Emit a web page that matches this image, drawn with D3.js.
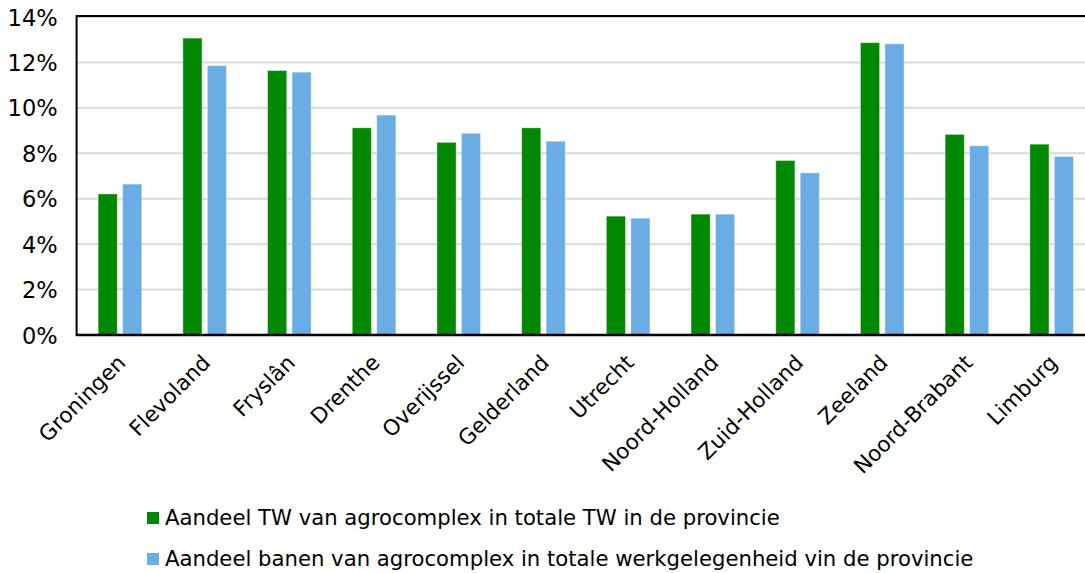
<!DOCTYPE html>
<html><head><meta charset="utf-8">
<script src="https://cdn.jsdelivr.net/npm/d3@7"></script>
<style>
body{margin:0;background:#fff;}
svg text{font-family:"DejaVu Sans",Verdana,sans-serif;fill:#000;}
</style></head>
<body>
<svg id="c" width="1085" height="573"></svg>
<script>
const categories = ["Groningen","Flevoland","Fryslân","Drenthe","Overijssel","Gelderland","Utrecht","Noord-Holland","Zuid-Holland","Zeeland","Noord-Brabant","Limburg"];
const seriesNames = ["Aandeel TW van agrocomplex in totale TW in de provincie","Aandeel banen van agrocomplex in totale werkgelegenheid vin de provincie"];
const tw = [6.21, 13.07, 11.64, 9.12, 8.48, 9.12, 5.23, 5.32, 7.68, 12.87, 8.83, 8.40];
const banen = [6.64, 11.86, 11.57, 9.68, 8.88, 8.53, 5.14, 5.32, 7.14, 12.82, 8.33, 7.86];
const yTicks = [0, 2, 4, 6, 8, 10, 12, 14];
const colors = ["#008800", "#6aace4"];

const svg = d3.select("#c");
const mLeft = 77.6, mTop = 17, mBottom = 335, mRight = 1094;

const x0 = d3.scaleBand().domain(categories).range([mLeft, mRight]).paddingInner(0).paddingOuter(0);
const x1 = d3.scaleBand().domain([0,1]).range([x0.bandwidth()*0.243, x0.bandwidth()*0.757]).paddingInner(0.22);
const y = d3.scaleLinear().domain([0, 14]).range([mBottom, mTop]);

// gridlines
svg.append("g").selectAll("line").data(yTicks).join("line")
  .attr("x1", mLeft).attr("x2", 1085)
  .attr("y1", d => y(d)).attr("y2", d => y(d))
  .attr("stroke", "#d9d9d9").attr("stroke-width", 2);

// bars
const data = categories.map((c, i) => ({c, v: [tw[i], banen[i]]}));
const g = svg.append("g").selectAll("g").data(data).join("g")
  .attr("transform", d => `translate(${x0(d.c)},0)`);
g.selectAll("rect").data(d => d.v.map((v, s) => ({v, s}))).join("rect")
  .attr("x", d => x1(d.s)).attr("width", x1.bandwidth())
  .attr("y", d => y(d.v)).attr("height", d => y(0) - y(d.v))
  .attr("fill", d => colors[d.s])
  .attr("stroke", "rgba(255,255,255,0.35)").attr("stroke-width", 1);

// frame
svg.append("line").attr("x1", mLeft-1).attr("x2", 1085).attr("y1", mTop-1).attr("y2", mTop-1).attr("stroke", "#000").attr("stroke-width", 2);
svg.append("line").attr("x1", mLeft-1).attr("x2", 1085).attr("y1", mBottom).attr("y2", mBottom).attr("stroke", "#000").attr("stroke-width", 2.5);
svg.append("line").attr("x1", mLeft-1).attr("x2", mLeft-1).attr("y1", mTop-2).attr("y2", mBottom+1).attr("stroke", "#000").attr("stroke-width", 2);

// y axis labels
const yAxis = d3.axisLeft(y).tickValues(yTicks).tickFormat(d => d + "%").tickSize(0).tickPadding(20);
const ya = svg.append("g").attr("transform", `translate(${mLeft},0)`).call(yAxis);
ya.select(".domain").remove();
ya.selectAll("text").attr("font-size", 22.5).attr("font-family", "DejaVu Sans").attr("dy", "0.36em");

// x labels
svg.append("g").selectAll("text").data(categories).join("text")
  .attr("transform", d => `translate(${x0(d) + x0.bandwidth()/2 + 7},364) rotate(-45)`)
  .attr("text-anchor", "end").attr("font-size", 21.5)
  .text(d => d);

// legend
const leg = svg.append("g").selectAll("g").data(seriesNames).join("g")
  .attr("transform", (d, i) => `translate(147,${512 + i*41})`);
leg.append("rect").attr("width", 12).attr("height", 12).attr("fill", (d, i) => colors[i]);
leg.append("text").attr("x", 18).attr("y", 13).attr("font-size", 21.2).text(d => d);
</script>
</body></html>
